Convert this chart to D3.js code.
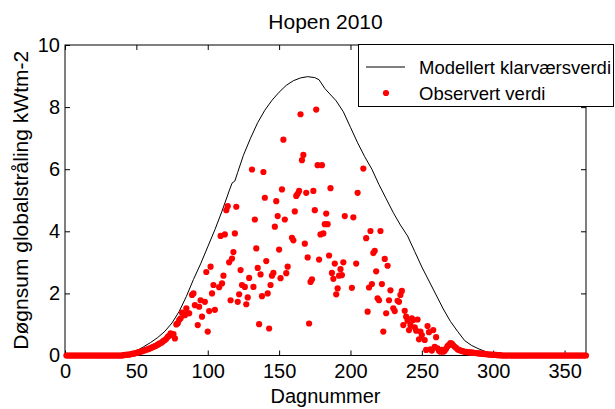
<!DOCTYPE html>
<html>
<head>
<meta charset="utf-8">
<script src="https://cdn.jsdelivr.net/npm/d3@7"></script>
<style>
  html, body { margin: 0; padding: 0; background: #fff; }
  svg { display: block; font-family: "Liberation Sans", Arial, Helvetica, sans-serif; }
</style>
</head>
<body>
<svg id="chart" width="615" height="409"></svg>
<script>
// Hopen 2010: modelled clear-sky daily global radiation vs. observed daily sums

const xTicks = [0, 50, 100, 150, 200, 250, 300, 350];
const yTicks = [0, 2, 4, 6, 8, 10];

// Modelled clear-sky curve (day number, kWtm-2)
const modelDays = [
  0, 5, 10, 15, 20, 25, 30, 35, 40, 45, 50, 55, 60, 65, 70, 75, 80, 85, 90, 95,
  100, 105, 110, 115, 117, 119, 121, 125, 130, 135, 140, 145, 150, 155, 160, 165, 170, 175, 178, 182,
  185, 190, 195, 200, 205, 210, 215, 220, 225, 230, 235, 240, 245, 250, 255, 260, 265, 270, 275, 280,
  285, 290, 295, 300, 305, 310, 315, 320, 325, 330, 335, 340, 345, 350, 355, 360, 365
];
const modelValues = [
  0, 0, 0, 0, 0, 0, 0, 0, 0.02, 0.05, 0.15, 0.28, 0.42, 0.58, 0.78, 1.05, 1.42, 1.9, 2.45, 2.95,
  3.5, 4.05, 4.65, 5.3, 5.55, 5.62, 5.9, 6.45, 7.0, 7.5, 7.9, 8.22, 8.48, 8.7, 8.85, 8.94, 8.98, 8.95, 8.88, 8.6,
  8.45, 8.2, 7.85, 7.35, 6.85, 6.4, 6.0, 5.5, 5.05, 4.6, 4.2, 3.85, 3.35, 2.85, 2.4, 1.95, 1.5, 1.1, 0.78, 0.48,
  0.32, 0.21, 0.12, 0.06, 0.02, 0, 0, 0, 0, 0, 0, 0, 0, 0, 0, 0, 0
];

// Observed daily sums (day number, kWtm-2)
const obsDays = [
  1, 2, 3, 4, 5, 6, 7, 8, 9, 10, 11, 12, 13, 14, 15, 16, 17, 18, 19, 20,
  21, 22, 23, 24, 25, 26, 27, 28, 29, 30, 31, 32, 33, 34, 35, 36, 37, 38, 39, 40,
  41, 42, 43, 44, 45, 46, 47, 48, 49, 50, 51, 52, 53, 54, 55, 56, 57, 58, 59, 60,
  61, 62, 63, 64, 65, 66, 67, 68, 69, 70, 71, 72, 73, 74, 75, 76, 77, 78, 79, 80,
  81, 82, 84, 85, 86, 87, 89, 90, 91, 93, 94, 95, 96, 98, 99, 100,
  101, 102, 103, 104, 105, 108, 109, 110, 111, 112, 113, 114, 115, 116, 117, 118, 119, 120,
  121, 122, 123, 124, 126, 127, 128, 129, 131, 132, 133, 134, 135, 136, 137, 138, 139, 140,
  141, 142, 143, 144, 145, 146, 147, 148, 149, 150, 151, 152, 153, 154, 155, 156, 159, 160,
  161, 162, 163, 164, 165, 166, 167, 168, 169, 170, 171, 172, 173, 174, 175, 176, 177, 178, 179, 180,
  181, 182, 183, 184, 185, 186, 187, 188, 189, 190, 191, 192, 193, 194, 195, 196,
  201, 202, 204, 205, 209, 211, 212, 213, 214, 215, 216, 217, 218, 219, 220,
  221, 222, 223, 224, 225, 226, 227, 228, 230, 231, 233, 234, 235, 236, 237, 238, 239, 240,
  241, 242, 243, 244, 245, 246, 247, 248, 249, 250, 252, 253, 254, 255, 256, 257, 258, 259, 260,
  261, 262, 263, 264, 265, 266, 267, 268, 269, 270, 271, 272, 273, 274, 275, 276, 277, 278, 279, 280,
  281, 282, 283, 284, 285, 286, 287, 288, 289, 290, 291, 292, 293, 294, 295, 296, 297, 298, 299, 300,
  301, 302, 303, 304, 305, 306, 307, 308, 309, 310, 311, 312, 313, 314, 315, 316, 317, 318, 319, 320,
  321, 322, 323, 324, 325, 326, 327, 328, 329, 330, 331, 332, 333, 334, 335, 336, 337, 338, 339, 340,
  341, 342, 343, 344, 345, 346, 347, 348, 349, 350, 351, 352, 353, 354, 355, 356, 357, 358, 359, 360,
  361, 362, 363, 364, 365
];
const obsValues = [
  0, 0, 0, 0, 0, 0, 0, 0, 0, 0, 0, 0, 0, 0, 0, 0, 0, 0, 0, 0,
  0, 0, 0, 0, 0, 0, 0, 0, 0, 0, 0, 0, 0, 0, 0, 0, 0, 0, 0, 0,
  0.01, 0.02, 0.02, 0.03, 0.03, 0.04, 0.05, 0.06, 0.07, 0.08, 0.1, 0.11, 0.12, 0.14, 0.15, 0.17, 0.19, 0.2, 0.22, 0.24,
  0.26, 0.28, 0.3, 0.32, 0.35, 0.38, 0.4, 0.43, 0.47, 0.5, 0.54, 0.6, 0.64, 0.71, 0.66, 0.69, 0.55, 1.0, 1.04, 1.14,
  1.2, 1.38, 1.3, 1.52, 1.36, 1.36, 1.95, 2.0, 1.62, 0.98, 1.57, 1.78, 1.25, 1.73, 2.69, 0.77,
  1.43, 2.86, 2.0, 2.27, 1.47, 2.2, 3.85, 2.32, 2.57, 3.9, 4.68, 4.81, 3.0, 1.78, 3.12, 3.33, 3.93, 4.79,
  1.73, 1.97, 2.75, 2.27, 2.21, 1.65, 1.87, 2.5, 5.99, 2.21, 4.38, 3.45, 2.82, 1.01, 2.61, 1.91, 5.91, 5.08,
  3.04, 2.0, 0.87, 2.27, 2.57, 2.66, 4.15, 4.97, 4.49, 3.41, 2.49, 5.35, 6.95, 4.38, 2.65, 2.86, 3.79, 3.71,
  4.64, 5.14, 5.21, 5.3, 7.77, 6.29, 6.46, 3.6, 5.24, 3.16, 1.03, 2.37, 2.45, 5.3, 4.68, 7.92, 6.13, 3.09, 3.9, 6.13,
  3.93, 4.23, 4.57, 4.23, 3.22, 5.39, 2.66, 2.47, 2.96, 1.97, 2.16, 2.57, 2.78, 2.59, 3.0, 4.49,
  2.18, 4.45, 2.96, 5.24, 6.02, 3.78, 1.41, 2.19, 4.01, 2.3, 3.3, 3.37, 2.71, 1.84, 1.78,
  4.01, 2.3, 0.77, 3.11, 1.36, 2.89, 1.78, 2.1, 1.52, 1.43, 1.76, 1.73, 1.95, 2.08, 0.98, 1.44, 1.25, 1.12,
  0.82, 0.98, 1.2, 1.14, 0.91, 0.8, 1.16, 0.52, 0.77, 0.66, 0.5, 0.18, 0.95, 0.75, 0.2, 0.16, 0.82, 0.28, 0.59,
  0.23, 0.15, 0.12, 0.18, 0.12, 0.15, 0.22, 0.3, 0.34, 0.4, 0.38, 0.33, 0.28, 0.25, 0.2, 0.18, 0.16, 0.15, 0.13, 0.12,
  0.12, 0.11, 0.1, 0.1, 0.09, 0.09, 0.08, 0.08, 0.07, 0.07, 0.06, 0.06, 0.05, 0.05, 0.04, 0.04, 0.03, 0.03, 0.03, 0.02,
  0.02, 0.02, 0.01, 0.01, 0.01, 0, 0, 0, 0, 0, 0, 0, 0, 0, 0, 0, 0, 0, 0, 0,
  0, 0, 0, 0, 0, 0, 0, 0, 0, 0, 0, 0, 0, 0, 0, 0, 0, 0, 0, 0,
  0, 0, 0, 0, 0, 0, 0, 0, 0, 0, 0, 0, 0, 0, 0, 0, 0, 0, 0, 0,
  0, 0, 0, 0, 0
];

const titleText = "Hopen 2010";
const xLabel = "Dagnummer";
const yLabel = "Døgnsum globalstråling kWtm-2";
const legendLabels = ["Modellert klarværsverdi", "Observert verdi"];

const svg = d3.select("#chart");
const plot = { left: 65, right: 586, top: 45, bottom: 355.5 };

const x = d3.scaleLinear().domain([0, 365]).range([plot.left, plot.right]);
const y = d3.scaleLinear().domain([0, 10]).range([plot.bottom, plot.top]);

const fontSize = 20;

// Axes box
svg.append("rect")
  .attr("x", plot.left).attr("y", plot.top)
  .attr("width", plot.right - plot.left).attr("height", plot.bottom - plot.top)
  .attr("fill", "none").attr("stroke", "#000").attr("stroke-width", 1);

function styleAxis(g) {
  g.select(".domain").remove();
  g.selectAll(".tick line").attr("stroke", "#000").attr("stroke-width", 1);
  g.selectAll(".tick text").attr("fill", "#000").style("font-size", fontSize + "px")
    .style("font-family", '"Liberation Sans", Arial, sans-serif');
}

// Bottom and left axes with labels; top and right mirror the ticks (inward)
svg.append("g").attr("transform", `translate(0,${plot.bottom})`)
  .call(d3.axisBottom(x).tickValues(xTicks).tickFormat(d3.format("d")).tickSize(-5).tickPadding(8))
  .call(styleAxis);
svg.append("g").attr("transform", `translate(0,${plot.top})`)
  .call(d3.axisTop(x).tickValues(xTicks).tickFormat("").tickSize(-5))
  .call(styleAxis);
svg.append("g").attr("transform", `translate(${plot.left},0)`)
  .call(d3.axisLeft(y).tickValues(yTicks).tickFormat(d3.format("d")).tickSize(-5).tickPadding(5))
  .call(styleAxis);
svg.append("g").attr("transform", `translate(${plot.right},0)`)
  .call(d3.axisRight(y).tickValues(yTicks).tickFormat("").tickSize(-5))
  .call(styleAxis);

// Modelled clear-sky curve
const modelData = modelDays.map((d, i) => ({ day: d, value: modelValues[i] }));
svg.append("path")
  .datum(modelData)
  .attr("fill", "none").attr("stroke", "#000").attr("stroke-width", 1)
  .attr("d", d3.line().x(d => x(d.day)).y(d => y(d.value)));

// Observed daily values
const obsData = obsDays.map((d, i) => ({ day: d, value: obsValues[i] }));
svg.append("g").selectAll("circle")
  .data(obsData)
  .join("circle")
  .attr("cx", d => x(d.day)).attr("cy", d => y(d.value))
  .attr("r", 3.1).attr("fill", "#ff0000");

// Title and axis labels
svg.append("text").attr("x", (plot.left + plot.right) / 2).attr("y", 29)
  .attr("text-anchor", "middle").style("font-size", "21px").text(titleText);
svg.append("text").attr("x", (plot.left + plot.right) / 2).attr("y", 403)
  .attr("text-anchor", "middle").style("font-size", fontSize + "px").text(xLabel);
svg.append("text").attr("transform", `translate(28,${(plot.top + plot.bottom) / 2}) rotate(-90)`)
  .attr("text-anchor", "middle").style("font-size", "21px").text(yLabel);

// Legend
const legend = svg.append("g");
legend.append("rect").attr("x", 358.5).attr("y", 44.5).attr("width", 255).attr("height", 62)
  .attr("fill", "#fff").attr("stroke", "#000").attr("stroke-width", 1);
legend.append("line").attr("x1", 366).attr("x2", 405).attr("y1", 67).attr("y2", 67)
  .attr("stroke", "#000").attr("stroke-width", 1);
legend.append("circle").attr("cx", 386).attr("cy", 93).attr("r", 3.1).attr("fill", "#ff0000");
legend.selectAll("text.lab").data(legendLabels).join("text").attr("class", "lab")
  .attr("x", 419).attr("y", (d, i) => 74 + i * 26)
  .style("font-size", "18.5px").attr("textLength", (d, i) => i === 0 ? 192 : null)
  .attr("lengthAdjust", "spacingAndGlyphs").text(d => d);
</script>
</body>
</html>
